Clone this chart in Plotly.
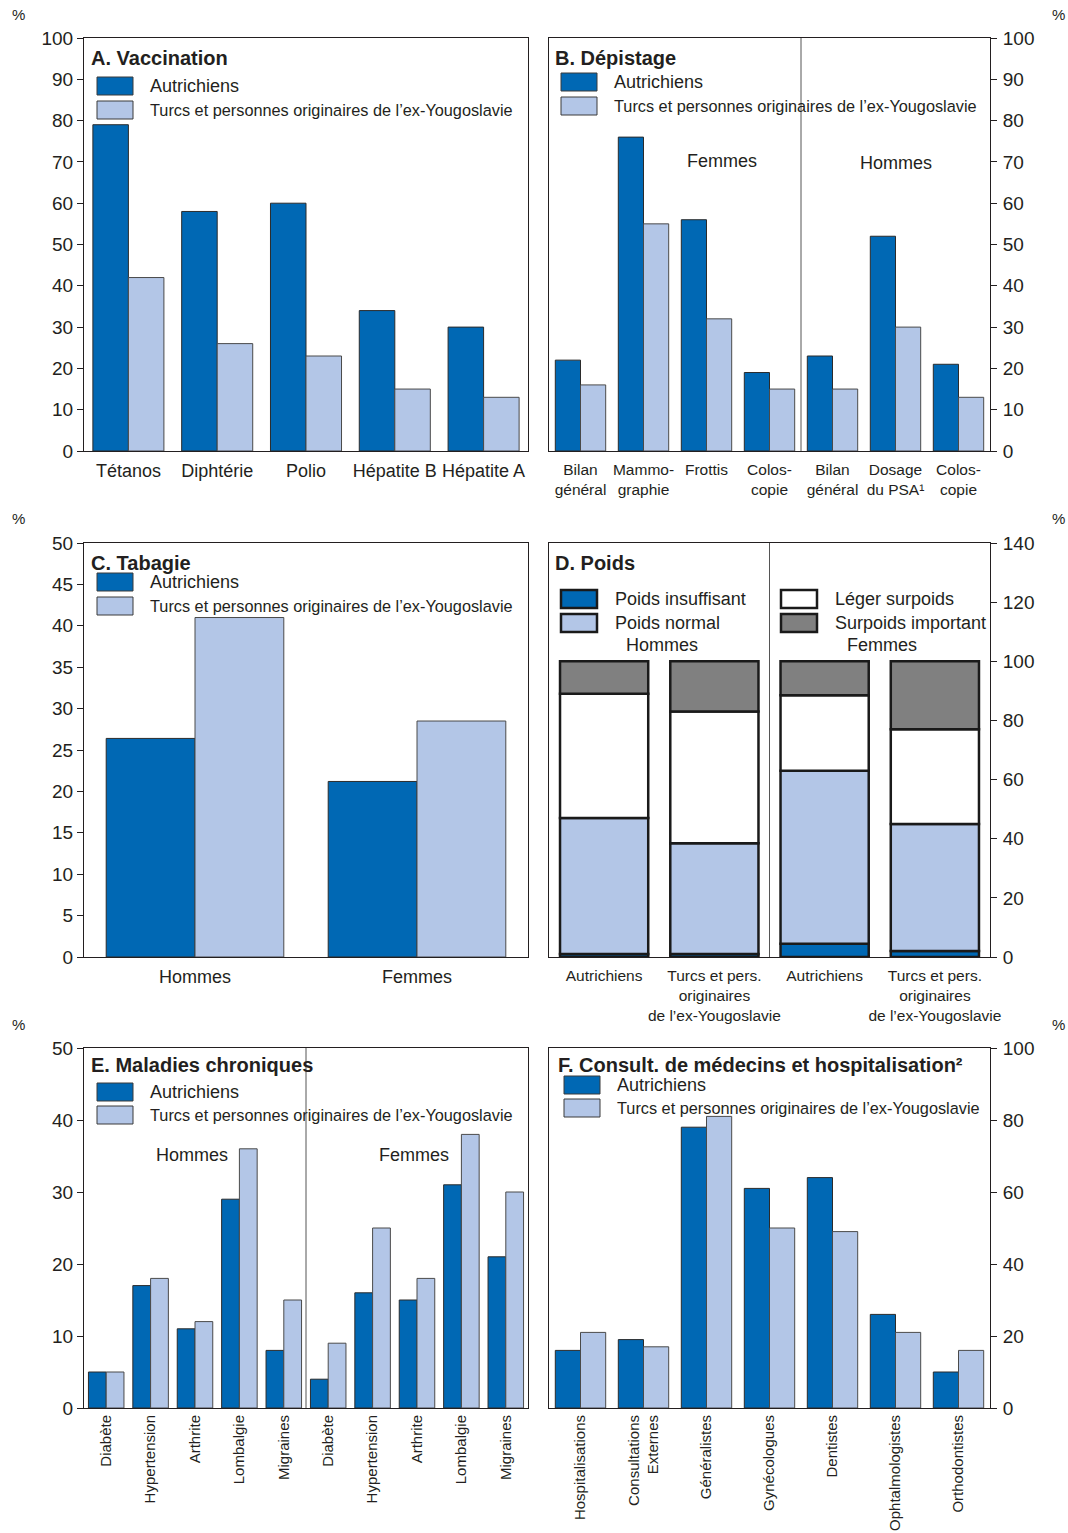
import numpy as np
import plotly.graph_objects as go

W, H = 1068, 1533
FONT = "Liberation Sans, Arial, Helvetica, sans-serif"
INK = "#231f20"
DARK = "#0068b4"
LIGHT = "#b3c6e7"
WHITE = "#ffffff"
GREY = "#808080"

SERIES = ["Autrichiens", "Turcs et personnes originaires de l’ex-Yougoslavie"]

# A. Vaccination
vacc_cats = ["Tétanos", "Diphtérie", "Polio", "Hépatite B", "Hépatite A"]
vacc_aut = [79, 58, 60, 34, 30]
vacc_turcs = [42, 26, 23, 15, 13]

# B. Dépistage (women first, then men)
dep_cats_f = ["Bilan<br>général", "Mammo-<br>graphie", "Frottis<br> ", "Colos-<br>copie"]
dep_cats_h = ["Bilan<br>général", "Dosage<br>du PSA¹", "Colos-<br>copie"]
dep_aut = [22, 76, 56, 19, 23, 52, 21]
dep_turcs = [16, 55, 32, 15, 15, 30, 13]

# C. Tabagie
tab_cats = ["Hommes", "Femmes"]
tab_aut = [26.4, 21.2]
tab_turcs = [41, 28.5]

# D. Poids (stacked shares, men then women)
poids_cats = ["Autrichiens", "Turcs et pers.<br>originaires<br>de l’ex-Yougoslavie",
              "Autrichiens", "Turcs et pers.<br>originaires<br>de l’ex-Yougoslavie"]
poids_names = ["Poids insuffisant", "Poids normal", "Léger surpoids", "Surpoids important"]
poids_insuff = [1, 1, 4.5, 2]
poids_normal = [46, 37.5, 58.5, 43]
poids_leger = [42, 44.5, 25.5, 32]
poids_important = [11, 17, 11.5, 23]

# E. Maladies chroniques (men then women)
mal_cats_h = ["Diabète", "Hypertension", "Arthrite", "Lombalgie", "Migraines"]
mal_cats_f = ["Diabète", "Hypertension", "Arthrite", "Lombalgie", "Migraines"]
mal_aut = [5, 17, 11, 29, 8, 4, 16, 15, 31, 21]
mal_turcs = [5, 18, 12, 36, 15, 9, 25, 18, 38, 30]

# F. Consultations de médecins et hospitalisation
cons_cats = ["Hospitalisations", "Consultations<br>Externes", "Généralistes", "Gynécologues",
             "Dentistes", "Ophtalmologistes", "Orthodontistes"]
cons_aut = [16, 19, 78, 61, 64, 26, 10]
cons_turcs = [21, 17, 81, 50, 49, 21, 16]


def px_x(p):
    return p / W


def px_y(p):
    return 1 - p / H


# panel frames in pixels: (x0, x1, ytop, ybottom)
PANELS = {
    1: (84, 528, 38, 451),
    2: (549, 990, 38, 451),
    3: (84, 528, 543, 957),
    4: (549, 990, 543, 957),
    5: (84, 528, 1048, 1408),
    6: (549, 990, 1048, 1408),
}

fig = go.Figure()
shapes = []
annotations = []


def axis_names(i):
    return ("x" if i == 1 else f"x{i}", "y" if i == 1 else f"y{i}")


def add_pair(i, aut, turcs):
    xa, ya = axis_names(i)
    xs = np.arange(len(aut))
    fig.add_trace(go.Bar(x=xs, y=aut, name=SERIES[0], xaxis=xa, yaxis=ya,
                         marker=dict(color=DARK, line=dict(color="#2b2b2b", width=1)),
                         showlegend=False))
    fig.add_trace(go.Bar(x=xs, y=turcs, name=SERIES[1], xaxis=xa, yaxis=ya,
                         marker=dict(color=LIGHT, line=dict(color="#4a4a4a", width=1)),
                         showlegend=False))


add_pair(1, vacc_aut, vacc_turcs)
add_pair(2, dep_aut, dep_turcs)
add_pair(3, tab_aut, tab_turcs)
add_pair(5, mal_aut, mal_turcs)
add_pair(6, cons_aut, cons_turcs)

# D: stacked by cumulative base
poids_layers = [poids_insuff, poids_normal, poids_leger, poids_important]
poids_colors = [DARK, LIGHT, WHITE, GREY]
base = np.zeros(len(poids_cats))
for name, vals, col in zip(poids_names, poids_layers, poids_colors):
    vals = np.array(vals, dtype=float)
    fig.add_trace(go.Bar(x=np.arange(len(poids_cats)), y=vals, base=base.copy(), name=name,
                         xaxis="x4", yaxis="y4", offsetgroup="poids",
                         marker=dict(color=col, line=dict(color="#1a1a1a", width=2.5)),
                         showlegend=False))
    base += vals

layout = dict(
    width=W, height=H, margin=dict(l=0, r=0, t=0, b=0, autoexpand=False),
    paper_bgcolor="white", plot_bgcolor="white",
    barmode="group", bargap=0.2, bargroupgap=0,
    font=dict(family=FONT, color=INK, size=18),
    showlegend=False,
)

y_specs = {
    1: dict(range=[0, 100], dtick=10, side="left"),
    2: dict(range=[0, 100], dtick=10, side="right"),
    3: dict(range=[0, 50], dtick=5, side="left"),
    4: dict(range=[0, 140], dtick=20, side="right"),
    5: dict(range=[0, 50], dtick=10, side="left"),
    6: dict(range=[0, 100], dtick=20, side="right"),
}
# labels, font size, angle, standoff
x_labels = {
    1: (vacc_cats, 18, 0, 3),
    2: (dep_cats_f + dep_cats_h, 15.5, 0, 4),
    3: (tab_cats, 18, 0, 3),
    4: (poids_cats, 15.5, 0, 4),
    5: (mal_cats_h + mal_cats_f, 15, -90, 0),
    6: (cons_cats, 15, -90, 0),
}

for i, (x0, x1, yt, yb) in PANELS.items():
    xk = "xaxis" if i == 1 else f"xaxis{i}"
    yk = "yaxis" if i == 1 else f"yaxis{i}"
    xa, ya = axis_names(i)
    labels, fs, ang, stand = x_labels[i]
    layout[xk] = dict(
        domain=[px_x(x0), px_x(x1)], anchor=ya, automargin=False,
        range=[-0.5, len(labels) - 0.5],
        tickmode="array", tickvals=list(range(len(labels))), ticktext=labels,
        tickangle=ang, tickfont=dict(size=fs), ticks="",
        ticklabelstandoff=stand,
        showline=True, mirror=True, linecolor=INK, linewidth=1,
        showgrid=False, zeroline=False, fixedrange=True,
    )
    ys = y_specs[i]
    layout[yk] = dict(
        domain=[px_y(yb), px_y(yt)], anchor=xa, side=ys["side"], automargin=False,
        range=ys["range"], dtick=ys["dtick"], tick0=0,
        ticks="outside", ticklen=6, tickcolor=INK, tickfont=dict(size=19),
        ticklabelstandoff=0 if ys["side"] == "left" else 2,
        showline=True, mirror=True, linecolor=INK, linewidth=1,
        showgrid=False, zeroline=False, fixedrange=True,
    )

# group separators
for i, pos in [(2, len(dep_cats_f) - 0.5), (4, 1.5), (5, len(mal_cats_h) - 0.5)]:
    xa, ya = axis_names(i)
    shapes.append(dict(type="line", xref=xa, yref=f"{ya} domain", x0=pos, x1=pos, y0=0, y1=1,
                       line=dict(color="#555555", width=1)))


def text(x, y, s, size=18, bold=False, anchor="left"):
    annotations.append(dict(xref="paper", yref="paper", x=px_x(x), y=px_y(y),
                            text=f"<b>{s}</b>" if bold else s, showarrow=False,
                            xanchor=anchor, yanchor="middle",
                            font=dict(size=size, family=FONT, color=INK)))


def swatch(x, y, color, lw=1, lc="#3a3a3a"):
    shapes.append(dict(type="rect", xref="paper", yref="paper",
                       x0=px_x(x), x1=px_x(x + 36), y0=px_y(y), y1=px_y(y + 18),
                       fillcolor=color, line=dict(color=lc, width=lw)))


def pair_legend(x, ytitle, yrow1, yrow2, title):
    text(x - 8, ytitle, title, size=20, bold=True)
    swatch(x, yrow1, DARK)
    swatch(x, yrow2, LIGHT)
    text(x + 51, yrow1 + 9, SERIES[0], size=18)
    text(x + 51, yrow2 + 9, SERIES[1], size=16.3)


pair_legend(97, 58, 77, 101, "A. Vaccination")
pair_legend(561, 58, 73, 97, "B. Dépistage")
pair_legend(97, 563, 573, 597, "C. Tabagie")
pair_legend(97, 1065, 1083, 1106, "E. Maladies chroniques")
pair_legend(564, 1065, 1076, 1099, "F. Consult. de médecins et hospitalisation²")

# D legend (four entries, two columns)
text(553, 563, "D. Poids", size=20, bold=True)
for (sx, sy), col, name in zip([(561, 590), (561, 614), (781, 590), (781, 614)],
                               poids_colors, poids_names):
    swatch(sx, sy, col, lw=2.5, lc="#1a1a1a")
    text(sx + 52, sy + 9, name, size=18)

# sub-group headings
text(722, 161, "Femmes", anchor="center")
text(896, 163, "Hommes", anchor="center")
text(662, 645, "Hommes", anchor="center")
text(882, 645, "Femmes", anchor="center")
text(192, 1155, "Hommes", anchor="center")
text(414, 1155, "Femmes", anchor="center")

# unit markers
for (ux, uy) in [(18, 14), (1058, 14), (18, 519), (1058, 519), (18, 1024), (1058, 1024)]:
    text(ux, uy, "%", size=15, anchor="center")

layout["shapes"] = shapes
layout["annotations"] = annotations
fig.update_layout(**layout)

fig.write_html(
    "out.html",
    post_script="document.body.style.margin='0';document.body.style.overflow='hidden';",
)
